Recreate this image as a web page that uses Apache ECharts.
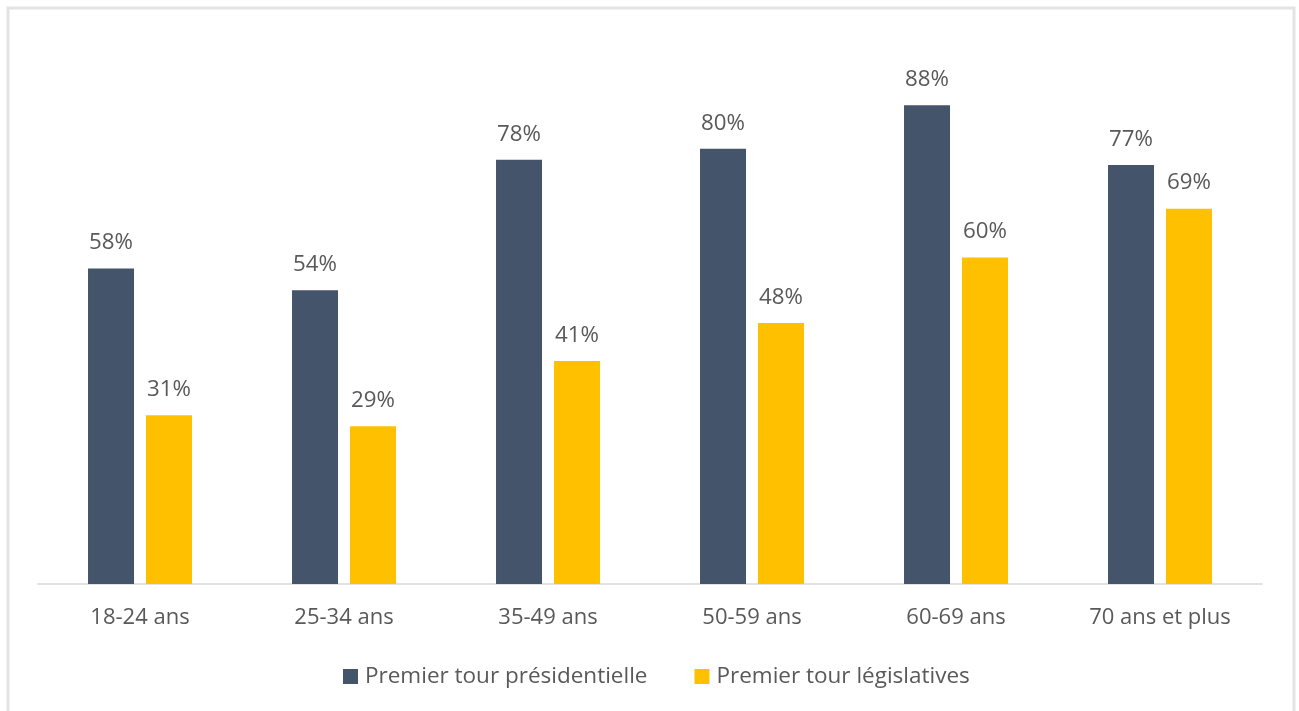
<!DOCTYPE html>
<html>
<head>
<meta charset="utf-8">
<script src="https://cdn.jsdelivr.net/npm/echarts@6/dist/echarts.min.js"></script>
<style>
html,body{margin:0;padding:0;background:#fff;}
#chart{width:1299px;height:711px;}
</style>
</head>
<body>
<div id="chart"></div>
<script>
const categories = ['18-24 ans', '25-34 ans', '35-49 ans', '50-59 ans', '60-69 ans', '70 ans et plus'];
const seriesNames = ['Premier tour présidentielle', 'Premier tour législatives'];
const presidentielle = [58, 54, 78, 80, 88, 77];
const legislatives = [31, 29, 41, 48, 60, 69];

const chart = echarts.init(document.getElementById('chart'));
const font = '"Open Sans", sans-serif';
const labelCfg = {
  show: true,
  position: 'top',
  distance: 14.5,
  formatter: p => p.value + '%',
  color: '#595959',
  fontSize: 22.3,
  fontFamily: font
};
chart.setOption({
  animation: false,
  graphic: [{
    type: 'rect',
    shape: {x: 8, y: 8, width: 1286, height: 730},
    style: {fill: 'none', stroke: '#e4e4e4', lineWidth: 3},
    silent: true
  }],
  grid: {left: 38, right: 37, top: 40, bottom: 127, containLabel: false},
  legend: {
    left: 338,
    top: 660,
    itemWidth: 15,
    itemHeight: 15,
    itemGap: 47,
    icon: 'rect',
    textStyle: {color: '#595959', fontSize: 22.5, fontFamily: font, padding: [0, 0, 0, 2]},
    data: seriesNames
  },
  xAxis: {
    type: 'category',
    data: categories,
    axisLine: {lineStyle: {color: '#d9d9d9', width: 1.5}},
    axisTick: {show: false},
    axisLabel: {color: '#595959', fontSize: 22, fontFamily: font, margin: 23}
  },
  yAxis: {
    type: 'value',
    min: 0,
    max: 100,
    show: false,
    splitLine: {show: false}
  },
  series: [
    {
      name: seriesNames[0],
      type: 'bar',
      data: presidentielle,
      barWidth: 46,
      barGap: '26%',
      itemStyle: {color: '#44546a'},
      label: labelCfg
    },
    {
      name: seriesNames[1],
      type: 'bar',
      data: legislatives,
      barWidth: 46,
      itemStyle: {color: '#ffc000'},
      label: labelCfg
    }
  ]
});
</script>
</body>
</html>
